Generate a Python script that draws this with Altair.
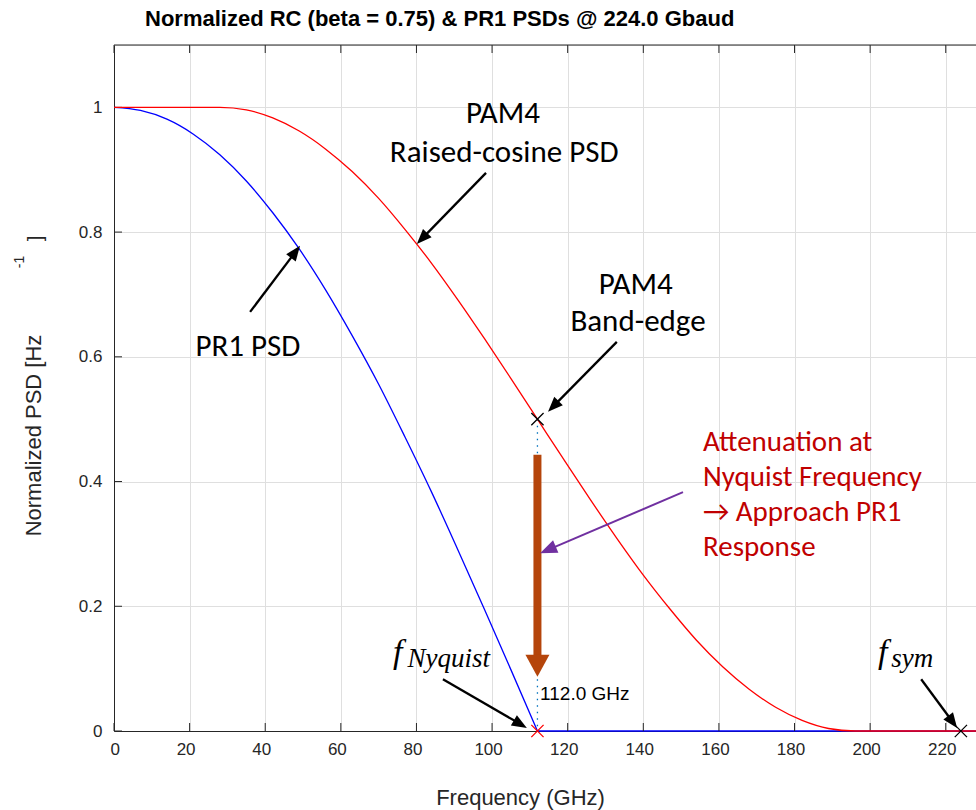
import math
import altair as alt
import pandas as pd

# ---------------- series (GHz, normalized PSD) ----------------
freq_ghz = [0, 7, 14, 21, 28, 35, 42, 49, 56, 63, 70, 77, 84, 91, 98, 105, 112,
            119, 126, 133, 140, 147, 154, 161, 168, 175, 182, 189, 196, 203, 210,
            217, 224, 228]
rc_psd = [1.0, 1.0, 1.0, 1.0, 1.0, 0.996, 0.983, 0.962, 0.933, 0.897, 0.854,
          0.804, 0.750, 0.691, 0.629, 0.565, 0.500, 0.435, 0.371, 0.309, 0.250,
          0.196, 0.146, 0.103, 0.067, 0.038, 0.017, 0.004, 0.0, 0.0, 0.0, 0.0,
          0.0, 0.0]
pr1_psd = [1.0, 0.995, 0.981, 0.957, 0.924, 0.882, 0.831, 0.773, 0.707, 0.634,
           0.556, 0.471, 0.383, 0.290, 0.195, 0.098, 0.0, 0.0, 0.0, 0.0, 0.0,
           0.0, 0.0, 0.0, 0.0, 0.0, 0.0, 0.0, 0.0, 0.0, 0.0, 0.0, 0.0, 0.0]
pr1_null_index = 16  # PR1 response reaches its null at 112 GHz

x_tick_values = [0, 20, 40, 60, 80, 100, 120, 140, 160, 180, 200, 220]
y_tick_values = [0, 0.2, 0.4, 0.6, 0.8, 1]

# markers: band edge, Nyquist, symbol rate
marker_freq = [112, 112, 224]
marker_psd = [0.5, 0.0, 0.0]
marker_color = ["#000000", "#ff0000", "#000000"]

nyquist_f = [112]
nyquist_top = [0.5]
nyquist_label = ["112.0 GHz"]

# black callout arrows (start -> tip)
arrow_start_f = [98.4, 36.0, 133.0, 87.0, 213.5]
arrow_start_p = [0.895, 0.672, 0.624, 0.083, 0.083]
arrow_tip_f = [80.1, 49.2, 114.8, 109.2, 223.0]
arrow_tip_p = [0.781, 0.778, 0.512, 0.005, 0.005]

# purple arrow toward the attenuation arrow
purple_start_f = [150.5]
purple_start_p = [0.383]
purple_tip_f = [112.7]
purple_tip_p = [0.285]

# thick attenuation arrow at Nyquist
atten_f = [112]
atten_top = [0.443]
atten_tip = [0.087]

callout_text = ["PAM4", "Raised-cosine PSD", "PR1 PSD", "PAM4", "Band-edge"]
callout_f = [102.9, 103.2, 35.4, 138.0, 138.6]
callout_p = [0.989, 0.927, 0.616, 0.715, 0.656]

note_text = ["Attenuation at", "Nyquist Frequency", "\u2192 Approach PR1", "Response"]
note_f = [155.8, 155.8, 155.8, 155.8]
note_p = [0.463, 0.407, 0.351, 0.295]

math_main = ["f", "f"]
math_main_f = [73.8, 202.1]
math_main_p = [0.109, 0.109]
math_sub = ["Nyquist", "sym"]
math_sub_f = [77.6, 205.6]
math_sub_p = [0.102, 0.102]

# ---------------- geometry ----------------
X_MAX = 228
Y_MAX = 1.1
W = 862
H = 686
SX = W / X_MAX
SY = H / Y_MAX

FONT_AX = "Liberation Sans, Arial, sans-serif"
FONT_NOTE = "Carlito, Lato, sans-serif"
FONT_MATH = "Liberation Serif, DejaVu Serif, serif"
AX_COLOR = "#262626"

HEAD_PATH = "M0,0L-0.8,2L0.8,2Z"
WIDE_HEAD_PATH = "M0,0L-1.09,2L1.09,2Z"
X_PATH = "M-1,-1L1,1M-1,1L1,-1"

xs = alt.Scale(domain=[0, X_MAX], nice=False, zero=False)
ys = alt.Scale(domain=[0, Y_MAX], nice=False, zero=False)


def arrow_frames(sf, sp, tf, tp, head_len):
    shafts, heads = [], []
    for a, b, c, d in zip(sf, sp, tf, tp):
        dx = (c - a) * SX
        dy = -(d - b) * SY
        length = math.hypot(dx, dy)
        ang = math.degrees(math.atan2(dx, -dy)) % 360
        k = (length - head_len * 0.8) / length
        shafts.append({"f": a, "p": b, "f2": a + (c - a) * k, "p2": b + (d - b) * k})
        heads.append({"f": c, "p": d, "angle": ang})
    return pd.DataFrame(shafts), pd.DataFrame(heads)


rc_df = pd.DataFrame({"f": freq_ghz, "p": rc_psd})

# PR1: roll-off segment and the stop-band segment drawn as separate pieces
k = pr1_null_index
pr1_df = pd.concat([
    pd.DataFrame({"f": freq_ghz[:k + 1], "p": pr1_psd[:k + 1], "seg": "roll-off"}),
    pd.DataFrame({"f": freq_ghz[k:], "p": pr1_psd[k:], "seg": "stop"}),
], ignore_index=True)

# axes layer (grid, labels, titles) carried by the PR1 curve
pr1_line = alt.Chart(pr1_df).mark_line(
    color="#0000ff", strokeWidth=1.3, interpolate="monotone"
).encode(
    x=alt.X("f:Q", scale=xs, axis=alt.Axis(
        values=x_tick_values, grid=True, gridColor="#dfdfdf", ticks=False,
        domainColor=AX_COLOR, labelFont=FONT_AX, labelFontSize=17,
        labelColor=AX_COLOR, labelPadding=10, labelOffset=-4,
        title="Frequency (GHz)",
        titleFont=FONT_AX, titleFontSize=22, titleFontWeight="normal",
        titleColor=AX_COLOR, titleX=406, titleY=66, titleBaseline="middle")),
    y=alt.Y("p:Q", scale=ys, axis=alt.Axis(
        values=y_tick_values, format="~g", grid=True, gridColor="#dfdfdf",
        ticks=False, domainColor=AX_COLOR, labelFont=FONT_AX, labelFontSize=17,
        labelColor=AX_COLOR, labelPadding=12, title="Normalized PSD [Hz",
        titleFont=FONT_AX, titleFontSize=22, titleFontWeight="normal",
        titleColor=AX_COLOR, titleAngle=270, titleX=-81, titleY=390,
        titleAlign="center", titleBaseline="middle")),
    detail="seg:N",
)

rc_line = alt.Chart(rc_df).mark_line(
    color="#ff0000", strokeWidth=1.3, interpolate="monotone"
).encode(x="f:Q", y="p:Q")

# inward tick marks on bottom, top and left, plus the top frame line
tick_len_y = 8 / SY
tick_len_x = 8 / SX
tick_rows = []
for v in x_tick_values:
    tick_rows.append({"f": v, "p": 0, "f2": v, "p2": tick_len_y})
    tick_rows.append({"f": v, "p": Y_MAX, "f2": v, "p2": Y_MAX - tick_len_y})
for v in y_tick_values:
    tick_rows.append({"f": 0, "p": v, "f2": tick_len_x, "p2": v})
tick_rows.append({"f": 0, "p": Y_MAX, "f2": X_MAX, "p2": Y_MAX})
ticks = alt.Chart(pd.DataFrame(tick_rows)).mark_rule(
    color=AX_COLOR, strokeWidth=1
).encode(x="f:Q", y="p:Q", x2="f2:Q", y2="p2:Q")

# dotted Nyquist guide
guide = alt.Chart(pd.DataFrame({"f": nyquist_f, "p": nyquist_top, "p2": [0] * len(nyquist_f)})).mark_rule(
    color="#0072bd", strokeWidth=1.3, strokeDash=[1.5, 5]
).encode(x="f:Q", y="p:Q", y2="p2:Q")

guide_label = alt.Chart(pd.DataFrame({"f": [v + 0.7 for v in nyquist_f], "p": [0.059], "t": nyquist_label})).mark_text(
    align="left", baseline="middle", font=FONT_AX, fontSize=19, color="#000000"
).encode(x="f:Q", y="p:Q", text="t:N")

markers = alt.Chart(pd.DataFrame({"f": marker_freq, "p": marker_psd, "c": marker_color})).mark_point(
    shape=X_PATH, size=150, strokeWidth=1.3, filled=False, opacity=1
).encode(x="f:Q", y="p:Q", color=alt.Color("c:N", scale=None))

# thick brown attenuation arrow
atten_head_len = 22
atten_shaft = alt.Chart(pd.DataFrame({
    "f": atten_f, "p": atten_top,
    "p2": [t + atten_head_len * 0.95 / SY for t in atten_tip]})).mark_rule(
    color="#b5450b", strokeWidth=8, strokeCap="butt"
).encode(x="f:Q", y="p:Q", y2="p2:Q")
atten_head = alt.Chart(pd.DataFrame({"f": atten_f, "p": atten_tip, "angle": [180] * len(atten_f)})).mark_point(
    shape=WIDE_HEAD_PATH, size=484, filled=True, color="#b5450b", opacity=1, strokeWidth=0
).encode(x="f:Q", y="p:Q", angle=alt.Angle("angle:Q", scale=None))

# black callout arrows
blk_shaft_df, blk_head_df = arrow_frames(arrow_start_f, arrow_start_p, arrow_tip_f, arrow_tip_p, 15)
blk_shaft = alt.Chart(blk_shaft_df).mark_rule(color="#000000", strokeWidth=2.3).encode(
    x="f:Q", y="p:Q", x2="f2:Q", y2="p2:Q")
blk_head = alt.Chart(blk_head_df).mark_point(
    shape=HEAD_PATH, size=225, filled=True, color="#000000", opacity=1, strokeWidth=0
).encode(x="f:Q", y="p:Q", angle=alt.Angle("angle:Q", scale=None))

# purple arrow
pur_shaft_df, pur_head_df = arrow_frames(purple_start_f, purple_start_p, purple_tip_f, purple_tip_p, 17)
pur_shaft = alt.Chart(pur_shaft_df).mark_rule(color="#7030a0", strokeWidth=2).encode(
    x="f:Q", y="p:Q", x2="f2:Q", y2="p2:Q")
pur_head = alt.Chart(pur_head_df).mark_point(
    shape=HEAD_PATH, size=289, filled=True, color="#7030a0", opacity=1, strokeWidth=0
).encode(x="f:Q", y="p:Q", angle=alt.Angle("angle:Q", scale=None))

callouts = alt.Chart(pd.DataFrame({"f": callout_f, "p": callout_p, "t": callout_text})).mark_text(
    align="center", baseline="middle", font=FONT_NOTE, fontSize=31, color="#000000"
).encode(x="f:Q", y="p:Q", text="t:N")

notes = alt.Chart(pd.DataFrame({"f": note_f, "p": note_p, "t": note_text})).mark_text(
    align="left", baseline="middle", font=FONT_NOTE, fontSize=29, color="#c00000"
).encode(x="f:Q", y="p:Q", text="t:N")

math_f = alt.Chart(pd.DataFrame({"f": math_main_f, "p": math_main_p, "t": math_main})).mark_text(
    align="left", baseline="alphabetic", font=FONT_MATH, fontSize=34, fontStyle="italic", color="#000000"
).encode(x="f:Q", y="p:Q", text="t:N")

math_s = alt.Chart(pd.DataFrame({"f": math_sub_f, "p": math_sub_p, "t": math_sub})).mark_text(
    align="left", baseline="alphabetic", font=FONT_MATH, fontSize=27, fontStyle="italic", color="#000000"
).encode(x="f:Q", y="p:Q", text="t:N")

# displaced superscript of the y-axis unit
unit_bits = alt.Chart(pd.DataFrame({"f": [-24.9, -20.6], "p": [0.752, 0.790],
                                     "t": ["-1", "]"], "s": [14, 21]})).mark_text(
    align="center", baseline="middle", font=FONT_AX, angle=270, color=AX_COLOR
).encode(x="f:Q", y="p:Q", text="t:N", size=alt.Size("s:Q", scale=None))

chart = alt.layer(
    pr1_line, ticks, guide, rc_line, markers, atten_shaft, atten_head,
    blk_shaft, blk_head, pur_shaft, pur_head, guide_label, callouts, notes,
    math_f, math_s, unit_bits
).properties(
    width=W, height=H,
    autosize=alt.AutoSizeParams(type="none"),
    padding={"left": 114, "top": 45, "right": 0, "bottom": 79},
    title=alt.TitleParams(
        "Normalized RC (beta = 0.75) & PR1 PSDs @ 224.0 Gbaud",
        anchor="start", frame="group", dx=31, offset=14, font=FONT_AX,
        fontSize=22, fontWeight="bold", color="#000000"),
).configure_view(stroke=None).configure(background="#ffffff")

chart.save("out.html", embed_options={"renderer": "svg", "actions": False})
